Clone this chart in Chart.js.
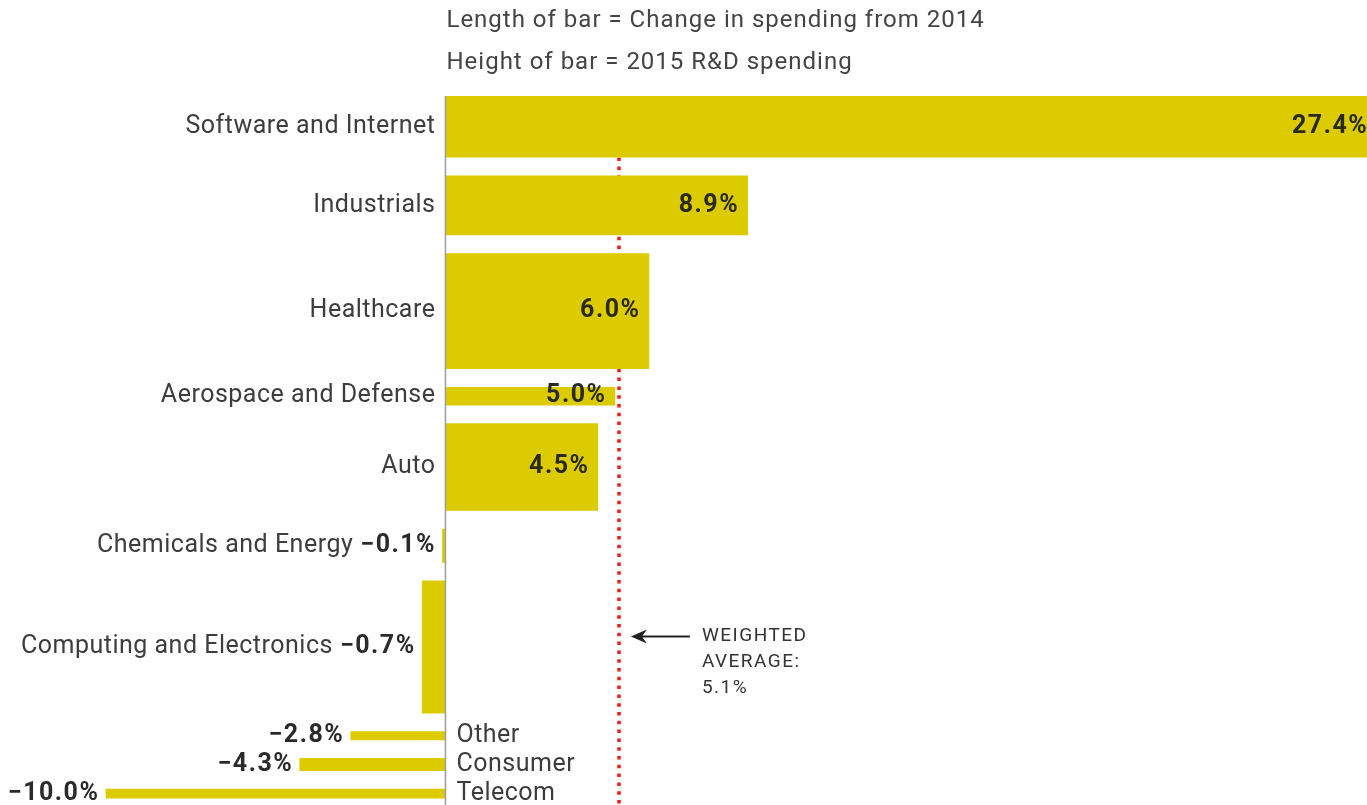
<!DOCTYPE html>
<html lang="en">
<head>
    <meta charset="UTF-8" />
    <title>R&amp;D Spending Change by Industry</title>
    <script src="https://cdn.jsdelivr.net/npm/chart.js"></script>
    <style>
        html, body {
          margin: 0;
          padding: 0;
          background: #ffffff;
        }

        .chart-container {
          position: relative;
          width: 1367px;
          height: 805px;
        }
    </style>
</head>
<body>

<div class="chart-container">
    <canvas id="rdChart"></canvas>
</div>

<script>
    // Industries, top to bottom
    const sectors = [
      'Software and Internet', 'Industrials', 'Healthcare', 'Aerospace and Defense', 'Auto',
      'Chemicals and Energy', 'Computing and Electronics', 'Other', 'Consumer', 'Telecom'
    ];
    // Length of bar: change in R&D spending from 2014 (%)
    const changes = [27.4, 8.9, 6.0, 5.0, 4.5, -0.1, -0.7, -2.8, -4.3, -10.0];
    // Height of bar: 2015 R&D spending (US$ billions, estimated)
    const spending = [76, 74, 143, 23, 108, 42, 164, 11, 16, 12];
    const weightedAverage = 5.1;
    const titleLines = ['Length of bar = Change in spending from 2014', 'Height of bar = 2015 R&D spending'];
    const noteLines = ['WEIGHTED', 'AVERAGE:', '5.1%'];

    const BAR_COLOR = '#dccb00';
    const GAP = 22; // space between bars, in spending units

    // stack the bars from the top down
    const tops = [];
    let acc = 0;
    spending.forEach(s => { tops.push(acc); acc += s + GAP; });

    function fmt(v) {
      return (v < 0 ? '\u2212' : '') + Math.abs(v).toFixed(1) + '%';
    }

    const datasets = sectors.map((name, i) => ({
      label: name,
      data: [{ x: 0, y: tops[i] }, { x: changes[i], y: tops[i] }],
      fill: { value: tops[i] + spending[i] },
      backgroundColor: BAR_COLOR,
      borderWidth: 0,
      pointRadius: 0,
      tension: 0
    }));

    const averageLine = {
      id: 'averageLine',
      beforeDatasetsDraw(chart) {
        const { ctx, chartArea, scales: { x } } = chart;
        const px = Math.round(x.getPixelForValue(weightedAverage));
        ctx.save();
        ctx.strokeStyle = '#f21c1c';
        ctx.lineWidth = 3.5;
        ctx.setLineDash([3.5, 5.3]);
        ctx.beginPath();
        ctx.moveTo(px, chartArea.top);
        ctx.lineTo(px, chart.height);
        ctx.stroke();
        ctx.restore();
      }
    };

    function setFont(ctx, font, spacing) {
      ctx.font = font;
      ctx.letterSpacing = spacing + 'px';
    }

    const barLabels = {
      id: 'barLabels',
      afterDatasetsDraw(chart) {
        const { ctx, chartArea, scales: { x, y } } = chart;
        const zero = x.getPixelForValue(0);
        const nameFont = '400 25px Roboto';
        const valueFont = '700 25px Roboto';

        ctx.save();
        // axis line
        ctx.strokeStyle = '#9c9c9c';
        ctx.lineWidth = 1.5;
        ctx.beginPath();
        ctx.moveTo(zero, chartArea.top);
        ctx.lineTo(zero, chart.height);
        ctx.stroke();

        // title lines above the bars
        setFont(ctx, '400 24px Roboto', 1);
        ctx.fillStyle = '#444444';
        ctx.textAlign = 'left';
        ctx.textBaseline = 'middle';
        titleLines.forEach((t, k) => ctx.fillText(t, zero + 1, 21 + k * 42));

        sectors.forEach((name, i) => {
          const v = changes[i];
          const yTop = y.getPixelForValue(tops[i]);
          const yBot = y.getPixelForValue(tops[i] + spending[i]);
          const cy = (yTop + yBot) / 2;
          const end = x.getPixelForValue(v);
          const thin = (yBot - yTop) < 20;

          ctx.textBaseline = 'middle';
          ctx.textAlign = 'right';
          if (v >= 0) {
            setFont(ctx, valueFont, 1.5);
            ctx.fillStyle = '#2a2a1a';
            ctx.fillText(fmt(v), end - 9, cy);
            setFont(ctx, nameFont, 0.5);
            ctx.fillStyle = '#3d3d3d';
            ctx.fillText(name, zero - 10, cy);
          } else {
            setFont(ctx, valueFont, 1.5);
            ctx.fillStyle = '#2a2a2a';
            const valX = end - 6;
            ctx.fillText(fmt(v), valX, cy);
            const w = ctx.measureText(fmt(v)).width;
            setFont(ctx, nameFont, 0.5);
            ctx.fillStyle = '#3d3d3d';
            if (thin) {
              ctx.textAlign = 'left';
              ctx.fillText(name, zero + 11, cy);
            } else {
              ctx.fillText(name, valX - w - 7, cy);
            }
          }
        });

        // weighted average note
        const ax = x.getPixelForValue(weightedAverage);
        const ay = y.getPixelForValue(667);
        ctx.strokeStyle = '#222222';
        ctx.fillStyle = '#222222';
        ctx.lineWidth = 2;
        ctx.beginPath();
        ctx.moveTo(ax + 71, ay);
        ctx.lineTo(ax + 22, ay);
        ctx.stroke();
        ctx.beginPath();
        ctx.moveTo(ax + 12, ay);
        ctx.lineTo(ax + 28, ay - 7);
        ctx.lineTo(ax + 23, ay);
        ctx.lineTo(ax + 28, ay + 7);
        ctx.closePath();
        ctx.fill();

        setFont(ctx, '400 19px Roboto', 1.5);
        ctx.fillStyle = '#333333';
        ctx.textAlign = 'left';
        noteLines.forEach((t, k) => ctx.fillText(t, ax + 83, ay + k * 26));
        ctx.restore();
      }
    };

    new Chart(document.getElementById('rdChart').getContext('2d'), {
      type: 'line',
      data: { datasets: datasets },
      options: {
        responsive: true,
        maintainAspectRatio: false,
        animation: false,
        layout: { padding: { top: 96, left: 0, right: 0, bottom: 0 } },
        plugins: {
          legend: { display: false },
          tooltip: { enabled: false },
          title: { display: false }
        },
        scales: {
          x: { type: 'linear', min: -13.1, max: 27.1, display: false },
          y: { type: 'linear', reverse: true, min: 0, max: 875, display: false }
        }
      },
      plugins: [averageLine, barLabels]
    });
</script>

</body>
</html>
